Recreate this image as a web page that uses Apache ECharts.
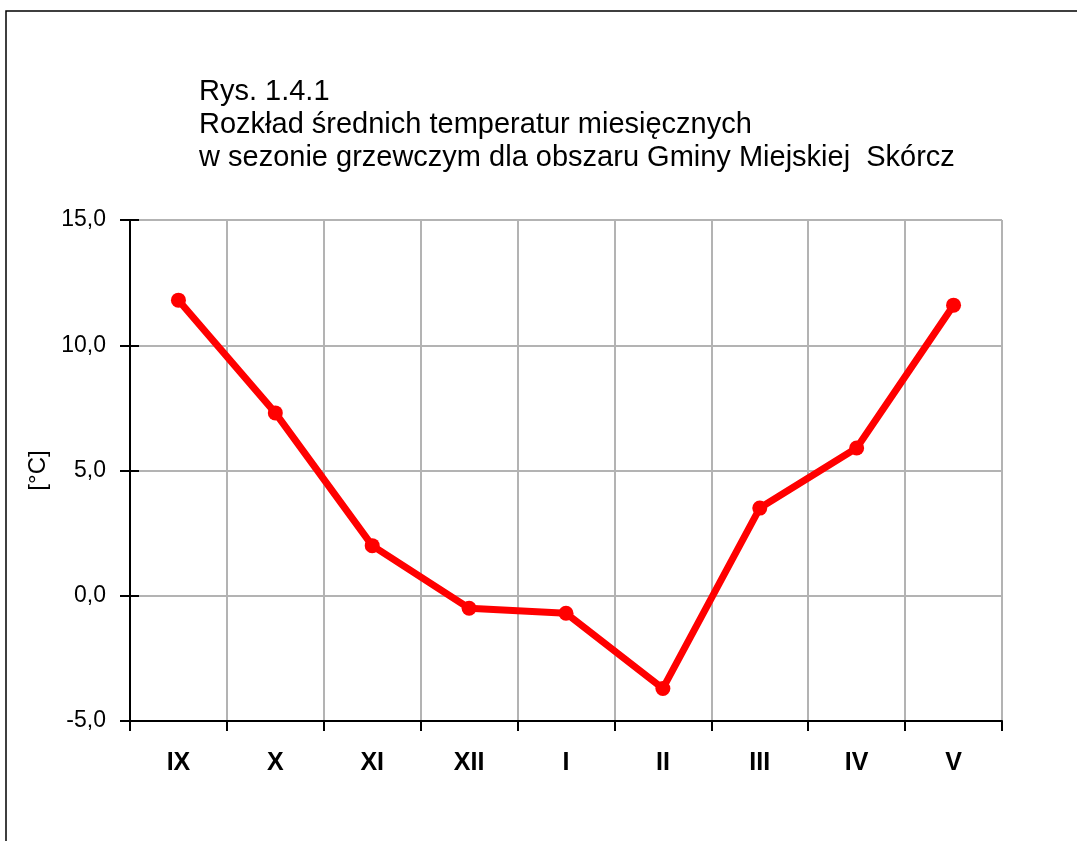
<!DOCTYPE html>
<html>
<head>
<meta charset="utf-8">
<script src="https://cdn.jsdelivr.net/npm/echarts@6/dist/echarts.min.js"></script>
<style>
  html, body { margin: 0; padding: 0; background: #fff; }
  #chart { width: 1077px; height: 841px; }
</style>
</head>
<body>
<div id="chart"></div>
<script>
// dane
var months = ['IX', 'X', 'XI', 'XII', 'I', 'II', 'III', 'IV', 'V'];
var temps = [11.8, 7.3, 2.0, -0.5, -0.7, -3.7, 3.5, 5.9, 11.6];
var titleLines = [
  'Rys. 1.4.1',
  'Rozkład średnich temperatur miesięcznych',
  'w sezonie grzewczym dla obszaru Gminy Miejskiej  Skórcz'
];

var FONT = 'Liberation Sans, Arial, sans-serif';
var myChart = echarts.init(document.getElementById('chart'));

var option = {
  backgroundColor: '#fff',
  animation: false,
  graphic: [
    {
      type: 'rect',
      shape: { x: 6, y: 11, width: 1200, height: 900 },
      style: { fill: 'none', stroke: '#000', lineWidth: 1.5 },
      silent: true
    }
  ],
  title: {
    text: titleLines.join('\n'),
    left: 194,
    top: 70,
    textStyle: {
      fontFamily: FONT,
      fontSize: 29,
      fontWeight: 'normal',
      color: '#000',
      lineHeight: 33
    }
  },
  grid: { left: 130, top: 220, width: 872, height: 501 },
  xAxis: {
    type: 'category',
    data: months,
    boundaryGap: true,
    axisLine: { onZero: false, lineStyle: { color: '#000', width: 2 } },
    axisTick: { show: true, length: 10, lineStyle: { color: '#000', width: 2 } },
    axisLabel: {
      margin: 30,
      fontFamily: FONT,
      fontSize: 25,
      fontWeight: 'bold',
      color: '#000'
    },
    splitLine: { show: true, lineStyle: { color: '#b3b3b3', width: 2 } }
  },
  yAxis: [
    {
      type: 'value',
      min: -5,
      max: 15,
      interval: 5,
      name: '[°C]',
      nameLocation: 'middle',
      nameGap: 73,
      nameTextStyle: { fontFamily: FONT, fontSize: 24, color: '#000' },
      axisLine: { show: true, lineStyle: { color: '#000', width: 2 } },
      axisTick: { show: true, length: 10, lineStyle: { color: '#000', width: 2 } },
      axisLabel: {
        margin: 24,
        fontFamily: FONT,
        fontSize: 23,
        color: '#000',
        formatter: function (v) { return v.toFixed(1).replace('.', ','); }
      },
      splitLine: { show: true, lineStyle: { color: '#b3b3b3', width: 2 } }
    },
    {
      // druga oś tylko dla kresek po wewnętrznej stronie
      type: 'value',
      position: 'left',
      min: -5,
      max: 15,
      interval: 5,
      axisLine: { show: false },
      axisTick: { show: true, inside: true, length: 9, lineStyle: { color: '#000', width: 2 } },
      axisLabel: { show: false },
      splitLine: { show: false }
    }
  ],
  series: [
    {
      type: 'line',
      data: temps,
      symbol: 'circle',
      symbolSize: 15,
      lineStyle: { color: '#ff0000', width: 7 },
      itemStyle: { color: '#ff0000' }
    }
  ]
};

myChart.setOption(option);
</script>
</body>
</html>
